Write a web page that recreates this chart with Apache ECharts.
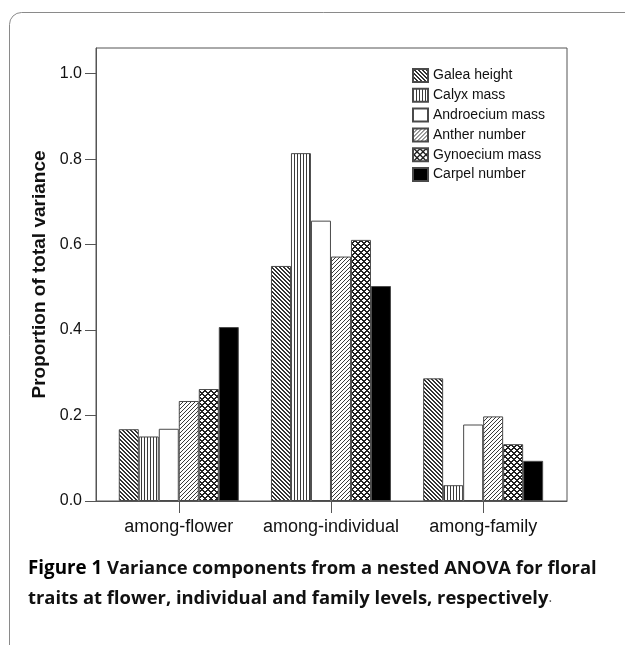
<!DOCTYPE html>
<html><head><meta charset="utf-8">
<script src="https://cdn.jsdelivr.net/npm/echarts@6/dist/echarts.min.js"></script>
<style>html,body{margin:0;padding:0;background:#fff}#c{width:625px;height:645px}</style>
</head><body><div id="c"></div>
<script>
// ---- data ----
const categories = ['among-flower', 'among-individual', 'among-family'];
const seriesNames = ['Galea height', 'Calyx mass', 'Androecium mass', 'Anther number', 'Gynoecium mass', 'Carpel number'];
const galeaHeight    = [0.168, 0.550, 0.287];
const calyxMass      = [0.151, 0.814, 0.037];
const androeciumMass = [0.169, 0.656, 0.179];
const antherNumber   = [0.234, 0.572, 0.198];
const gynoeciumMass  = [0.262, 0.611, 0.133];
const carpelNumber   = [0.407, 0.503, 0.094];
const yTicks = [0, 0.2, 0.4, 0.6, 0.8, 1.0];
const yTitle = 'Proportion of total variance';
const captionBold = 'Figure 1';
const captionLine1 = ' Variance components from a nested ANOVA for floral';
const captionLine2 = 'traits at flower, individual and family levels, respectively';

// ---- styles ----
function pattern(size, fg, test) {
  const c = document.createElement('canvas');
  c.width = size; c.height = size;
  const g = c.getContext('2d');
  g.fillStyle = '#fff'; g.fillRect(0, 0, size, size);
  g.fillStyle = fg;
  for (let y = 0; y < size; y++) for (let x = 0; x < size; x++) if (test(x, y)) g.fillRect(x, y, 1, 1);
  return { image: c, repeat: 'repeat' };
}
const mod = (a, n) => ((a % n) + n) % n;
const fills = [
  pattern(4, '#333333', (x, y) => mod(x - y, 4) < 2),
  pattern(3, '#3a3a3a', (x, y) => x === 0),
  '#ffffff',
  pattern(4, '#3a3a3a', (x, y) => mod(x + y, 4) === 0),
  pattern(6, '#222222', (x, y) => mod(x + y, 6) < 2 || mod(x - y, 6) < 2),
  '#000000'
];
const seriesValues = [galeaHeight, calyxMass, androeciumMass, antherNumber, gynoeciumMass, carpelNumber];

const chart = echarts.init(document.getElementById('c'), null, { renderer: 'canvas' });
const series = seriesNames.map((name, i) => ({
  name,
  type: 'bar',
  barWidth: 20,
  barGap: '0%',
  data: seriesValues[i].map((v, k) => [k, v]),
  itemStyle: { color: fills[i], borderColor: '#4a4a4a', borderWidth: 1 },
  emphasis: { disabled: true },
  animation: false
}));

chart.setOption({
  animation: false,
  grid: { left: 96, right: 58, top: 48, bottom: 144, show: true, borderColor: '#555', borderWidth: 1, backgroundColor: 'transparent' },
  legend: {
    orient: 'vertical', left: 412, top: 68, padding: 0,
    itemWidth: 15, itemHeight: 13, itemGap: 4.8, icon: 'rect',
    textStyle: { fontFamily: 'Liberation Sans, Arial', fontSize: 14, color: '#111' },
    data: seriesNames
  },
  xAxis: {
    type: 'value', min: -0.544, max: 2.551,
    axisLine: { show: true, onZero: false, lineStyle: { color: '#555' } },
    axisTick: { show: true, inside: false, length: 12, lineStyle: { color: '#555' }, customValues: [0, 1, 2] },
    axisLabel: { customValues: [0, 1, 2], formatter: v => categories[Math.round(v)], margin: 17,
      fontFamily: 'Liberation Sans, Arial', fontSize: 18, color: '#111' },
    splitLine: { show: false }
  },
  yAxis: {
    type: 'value', min: 0, max: 1.06,
    name: yTitle, nameLocation: 'middle', nameGap: 39,
    nameTextStyle: { fontFamily: 'Liberation Sans, Arial', fontWeight: 'bold', fontSize: 19, color: '#111' },
    axisLine: { show: true, onZero: false, lineStyle: { color: '#555' } },
    axisTick: { show: true, inside: false, length: 11, lineStyle: { color: '#555' }, customValues: yTicks },
    axisLabel: { customValues: yTicks, formatter: v => v.toFixed(1), margin: 14,
      fontFamily: 'Liberation Sans, Arial', fontSize: 16, color: '#111' },
    splitLine: { show: false }
  },
  graphic: [
    { type: 'rect', silent: true, shape: { x: 9.5, y: 12.5, width: 700, height: 700, r: 12 },
      style: { fill: 'none', stroke: '#8a8a8a', lineWidth: 1 } },
    { type: 'text', silent: true, left: 28, top: 559,
      style: {
        text: '{b|' + captionBold + '}{s|' + captionLine1 + '}\n{s|' + captionLine2 + '}{r|.}',
        rich: {
          b: { fontFamily: 'Open Sans', fontWeight: 'bold', fontSize: 18.8, lineHeight: 30, fill: '#000' },
          s: { fontFamily: 'Open Sans', fontWeight: 'bold', fontSize: 18.4, lineHeight: 30, fill: '#111' },
          r: { fontFamily: 'Open Sans', fontWeight: 'normal', fontSize: 14, lineHeight: 30, fill: '#555' }
        }
      } }
  ],
  series
});
</script>
</body></html>
